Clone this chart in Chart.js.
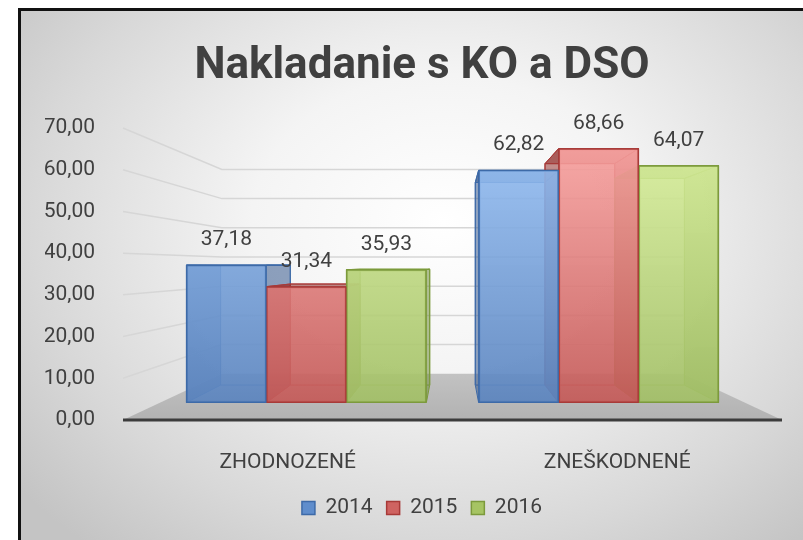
<!DOCTYPE html>
<html>
<head>
<meta charset="utf-8">
<title>Nakladanie s KO a DSO</title>
<script src="https://cdn.jsdelivr.net/npm/chart.js@4.4.1/dist/chart.umd.min.js"></script>
<style>
  html, body { margin: 0; padding: 0; background: #fff; }
  body { width: 803px; height: 540px; position: relative; overflow: hidden; }
  #frame {
    position: absolute; left: 18px; top: 8px; right: 0; bottom: 0;
    border-left: 3px solid #111; border-top: 3px solid #111;
    background: radial-gradient(ellipse 70% 80% at 54% 40%, #ffffff 0%, #f4f4f4 35%, #d8d8d8 75%, #c4c4c4 100%);
  }
  #chart { position: absolute; left: 0; top: 0; }
</style>
</head>
<body>
<div id="frame"></div>
<canvas id="chart" width="803" height="540"></canvas>
<script>
// data
var categories = ['ZHODNOZENÉ', 'ZNEŠKODNENÉ'];
var years = ['2014', '2015', '2016'];
var values2014 = [37.18, 62.82];
var values2015 = [31.34, 68.66];
var values2016 = [35.93, 64.07];
var yTicksMin = 0, yTicksMax = 70, yTicksStep = 10;

// look
var FONT = 'Roboto, "Open Sans", sans-serif';
var INK = '#404040';
var GRAD_TOP = ['rgba(147,189,242,0.9)', 'rgba(247,160,158,0.9)', 'rgba(215,238,154,0.9)'];
var GRAD_BOT = ['rgba(91,132,190,0.92)', 'rgba(196,90,88,0.92)', 'rgba(162,191,102,0.92)'];
var EDGE = ['#3d6aa8', '#a83a38', '#7c9a3c'];
var SIDE = ['rgba(52,88,140,0.55)', 'rgba(150,52,50,0.55)', 'rgba(112,140,58,0.55)'];
var LEGEND_FILL = ['#5f8dcc', '#cf6361', '#a6c463'];

// 3D perspective: depth factors relative to the front (axis) plane
var WALL = 0.70, BAR_FRONT = 0.887, BAR_BACK = 0.773;
var VAN = 36.9; // eye level, in axis units

function fmt(v) { return v.toFixed(2).replace('.', ','); }

function vanish(chart) {
  var a = chart.chartArea;
  return { x: (a.left + a.right) / 2, y: chart.scales.y.getPixelForValue(VAN) };
}

function poly(ctx, pts, fill, stroke) {
  ctx.beginPath();
  ctx.moveTo(pts[0][0], pts[0][1]);
  for (var i = 1; i < pts.length; i++) ctx.lineTo(pts[i][0], pts[i][1]);
  ctx.closePath();
  if (fill) { ctx.fillStyle = fill; ctx.fill(); }
  if (stroke) { ctx.strokeStyle = stroke; ctx.stroke(); }
}

var gradCache = {};
function barFill(di) {
  return function (c) {
    var chart = c.chart, a = chart.chartArea;
    if (!a) return GRAD_BOT[di];
    var key = di + ':' + a.top + ':' + a.bottom;
    if (gradCache[key]) return gradCache[key];
    var yb = chart.scales.yb;
    var g = chart.ctx.createLinearGradient(0, yb.getPixelForValue(70), 0, yb.getPixelForValue(0));
    g.addColorStop(0, GRAD_TOP[di]);
    g.addColorStop(1, GRAD_BOT[di]);
    gradCache[key] = g;
    return g;
  };
}

var box3d = {
  id: 'box3d',
  beforeDatasetsDraw: function (chart) {
    var ctx = chart.ctx, a = chart.chartArea, y = chart.scales.y;
    var vp = vanish(chart);
    function back(px, py, k) { return [vp.x + (px - vp.x) * k, vp.y + (py - vp.y) * k]; }
    var y0 = y.getPixelForValue(0);
    ctx.save();

    // side and back wall grid
    ctx.lineWidth = 1.5;
    ctx.strokeStyle = '#d6d6d6';
    y.ticks.forEach(function (t) {
      if (t.value === 0) return;
      var py = y.getPixelForValue(t.value);
      var b1 = back(a.left, py, WALL), b2 = back(a.right, py, WALL);
      ctx.beginPath();
      ctx.moveTo(a.left, py);
      ctx.lineTo(b1[0], b1[1]);
      ctx.lineTo(b2[0], b2[1]);
      ctx.stroke();
    });

    // floor
    var bl = back(a.left, y0, WALL), br = back(a.right, y0, WALL);
    var fg = ctx.createLinearGradient(0, bl[1], 0, y0);
    fg.addColorStop(0, '#c2c2c2');
    fg.addColorStop(1, '#b2b2b2');
    poly(ctx, [[a.left, y0], [a.right, y0], br, bl], fg, null);
    ctx.lineWidth = 3;
    ctx.strokeStyle = '#3c3c3c';
    ctx.beginPath();
    ctx.moveTo(a.left, y0);
    ctx.lineTo(a.right, y0);
    ctx.stroke();

    // bar back and side faces
    var K = BAR_BACK / BAR_FRONT;
    ctx.lineWidth = 1;
    chart.data.datasets.forEach(function (ds, di) {
      chart.getDatasetMeta(di).data.forEach(function (bar) {
        var p = bar.getProps(['x', 'y', 'base', 'width'], true);
        var l = p.x - p.width / 2, r = p.x + p.width / 2, t = p.y, b = p.base;
        var btl = back(l, t, K), btr = back(r, t, K), bbr = back(r, b, K), bbl = back(l, b, K);
        poly(ctx, [btl, btr, bbr, bbl], 'rgba(255,255,255,0.05)', EDGE[di]);
        poly(ctx, [[l, t], btl, bbl, [l, b]], SIDE[di], EDGE[di]);
        poly(ctx, [[r, t], btr, bbr, [r, b]], SIDE[di], EDGE[di]);
        poly(ctx, [[l, t], [r, t], btr, btl], SIDE[di], EDGE[di]);
      });
    });
    ctx.restore();
  },
  afterDatasetsDraw: function (chart) {
    var ctx = chart.ctx;
    ctx.save();
    ctx.font = '21px ' + FONT;
    ctx.fillStyle = INK;
    ctx.textAlign = 'center';
    ctx.textBaseline = 'middle';
    chart.data.datasets.forEach(function (ds, di) {
      chart.getDatasetMeta(di).data.forEach(function (bar, i) {
        var p = bar.getProps(['x', 'y'], true);
        ctx.fillText(fmt(ds.data[i].y), p.x, p.y - 25);
      });
    });
    ctx.restore();
  }
};

var series = [values2014, values2015, values2016];
var datasets = years.map(function (yr, di) {
  return {
    label: yr,
    data: series[di].map(function (v, i) { return { x: i, y: v }; }),
    xAxisID: 'xb',
    yAxisID: 'yb',
    backgroundColor: barFill(di),
    borderColor: EDGE[di],
    borderWidth: 1.5,
    borderSkipped: false,
    barThickness: 80
  };
});

new Chart(document.getElementById('chart'), {
  type: 'bar',
  data: { labels: categories, datasets: datasets },
  options: {
    responsive: false,
    animation: false,
    layout: { padding: { left: 45, right: 4, top: 0, bottom: 11.5 } },
    plugins: {
      title: {
        display: true,
        text: 'Nakladanie s KO a DSO',
        color: INK,
        font: { family: FONT, size: 44, weight: 'bold' },
        padding: { top: 40.6, bottom: 34.6 }
      },
      legend: {
        position: 'bottom',
        labels: {
          color: INK,
          font: { family: FONT, size: 21 },
          boxWidth: 13,
          boxHeight: 13,
          padding: 14,
          generateLabels: function (chart) {
            var items = Chart.defaults.plugins.legend.labels.generateLabels(chart);
            items.forEach(function (it, i) {
              it.fillStyle = LEGEND_FILL[i];
              it.strokeStyle = EDGE[i];
              it.lineWidth = 1.5;
            });
            return items;
          }
        }
      },
      tooltip: { enabled: false }
    },
    scales: {
      x: {
        type: 'category',
        offset: true,
        grid: { display: false },
        border: { display: false },
        ticks: { color: INK, font: { family: FONT, size: 21 }, padding: 22 },
        afterFit: function (s) { s.height = 63.5; }
      },
      xb: {
        type: 'linear',
        display: false,
        offset: false,
        grid: { offset: false },
        min: 0.5 - 1 / BAR_FRONT,
        max: 0.5 + 1 / BAR_FRONT
      },
      y: {
        min: yTicksMin,
        max: yTicksMax,
        grid: { display: false },
        border: { display: false },
        ticks: {
          stepSize: yTicksStep,
          color: INK,
          font: { family: FONT, size: 21 },
          padding: 20,
          callback: function (v) { return fmt(v); }
        },
        afterFit: function (s) { s.width = 78; }
      },
      yb: {
        type: 'linear',
        position: 'right',
        display: true,
        grid: { display: false },
        border: { display: false },
        ticks: { display: false },
        min: VAN - VAN / BAR_FRONT,
        max: VAN + (yTicksMax - VAN) / BAR_FRONT,
        afterFit: function (s) { s.width = 17; }
      }
    }
  },
  plugins: [box3d]
});
</script>
</body>
</html>
